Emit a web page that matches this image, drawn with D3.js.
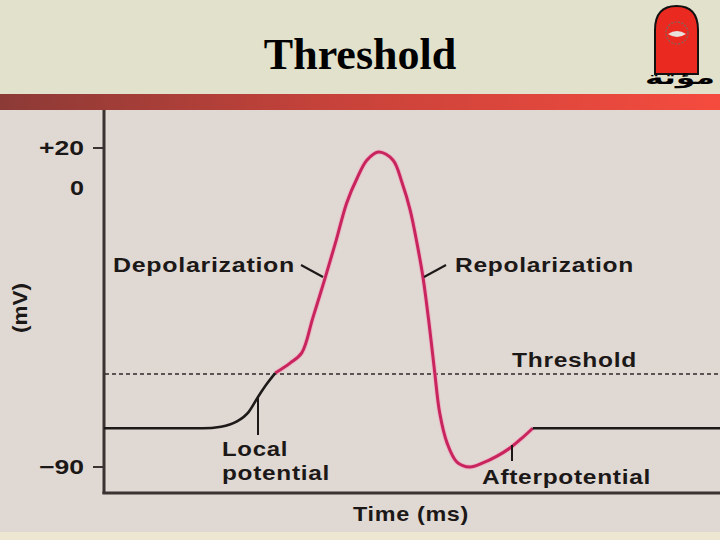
<!DOCTYPE html>
<html><head><meta charset="utf-8">
<script src="https://cdn.jsdelivr.net/npm/d3@7/dist/d3.min.js"></script>
<style>html,body{margin:0;padding:0;background:#e0d8d2;}svg{display:block;}</style>
</head><body><svg id="c" width="720" height="540"></svg>
<script>
// ---- data ----
const title = "Threshold";
const yTickValues = [20, 0, -90];
const yTickLabels = ["+20", "0", "\u221290"];
const yTickMarked = [true, false, true];
const thresholdValue = -60;
// resting / local potential (black)
const risingTime = [0, 16, 19, 21.5, 23.5, 25, 26.5, 27.8];
const risingMv   = [-77.5, -77.5, -77.0, -75.4, -72.2, -67.4, -63.0, -59.7];
// action potential (pink)
const spikeTime = [27.8, 30.2, 32.1, 33.9, 35.9, 37.7, 39.4, 41.1, 42.7, 44.6, 46.9, 48.4, 49.7, 50.8, 51.8, 52.8, 53.7, 54.5, 55.7, 57.3, 59.4, 61.5, 63.8, 65.9, 67.9, 69.6];
const spikeMv   = [-59.7, -56.5, -53.2, -41.9, -29.0, -16.8, -4.8, 5, 14, 18, 14, 2.5, -7.1, -17.7, -29.0, -44.2, -59.7, -72.6, -82.3, -88.4, -90, -88.7, -86.5, -83.9, -80.6, -77.5];
// return to rest (black)
const restTime = [69.6, 100];
const restMv   = [-77.5, -77.5];

const svg = d3.select("#c");
const W = 720, H = 540;

// backgrounds
svg.append("rect").attr("x",0).attr("y",0).attr("width",W).attr("height",H).attr("fill","#e0d8d2");
svg.append("rect").attr("x",0).attr("y",0).attr("width",W).attr("height",94).attr("fill","#e2e1cb");
svg.append("rect").attr("x",0).attr("y",532).attr("width",W).attr("height",8).attr("fill","#ede6d0");
const defs = svg.append("defs");
const g = defs.append("linearGradient").attr("id","band").attr("x1","0").attr("x2","1").attr("y1","0").attr("y2","0");
g.append("stop").attr("offset","0").attr("stop-color","#8c3a36");
g.append("stop").attr("offset","0.45").attr("stop-color","#c5423a");
g.append("stop").attr("offset","1").attr("stop-color","#f54b3e");
svg.append("rect").attr("x",0).attr("y",94).attr("width",W).attr("height",16).attr("fill","url(#band)");

// title
svg.append("text").attr("x",360).attr("y",69).attr("text-anchor","middle")
  .attr("font-family","'Liberation Serif','Times New Roman',serif").attr("font-weight","bold")
  .attr("font-size",44).attr("fill","#000").text(title);

// logo
const logo = svg.append("g");
logo.append("path").attr("d","M655,74 L655,30 Q655,6 676.5,6 Q698,6 698,30 L698,74 Z")
  .attr("fill","#ea2a20").attr("stroke","#111").attr("stroke-width",2);
logo.append("circle").attr("cx",677).attr("cy",33).attr("r",11).attr("fill","none").attr("stroke","#7a6a60").attr("stroke-width",1.2).attr("stroke-dasharray","2,1.5");
logo.append("path").attr("d","M668,34 Q677,28 686,34 Q677,40 668,34 Z").attr("fill","#e9e2dc");
logo.append("text").attr("x",680).attr("y",84).attr("text-anchor","middle").attr("textLength",70).attr("lengthAdjust","spacingAndGlyphs")
  .attr("font-family","'DejaVu Sans',sans-serif").attr("font-weight","bold").attr("font-size",18)
  .attr("fill","#000").attr("direction","rtl").text("مؤتة");

// scales (schematic piecewise voltage scale)
const x = d3.scaleLinear().domain([0,100]).range([104,720]);
const y = d3.scaleLinear().domain([-90,0,20]).range([467,188,148]);

const axisColor = "#3b3232";
const font = "'Liberation Sans',Arial,Helvetica,sans-serif";
const txtColor = "#1c1818";

// axes
svg.append("line").attr("x1",104).attr("x2",104).attr("y1",110).attr("y2",494).attr("stroke",axisColor).attr("stroke-width",3);
svg.append("line").attr("x1",102.5).attr("x2",720).attr("y1",493).attr("y2",493).attr("stroke",axisColor).attr("stroke-width",3);
const tickW = [45, 14, 45];
yTickValues.forEach((v,i)=>{
  if (yTickMarked[i]) svg.append("line").attr("x1",93).attr("x2",104).attr("y1",y(v)).attr("y2",y(v)).attr("stroke",axisColor).attr("stroke-width",2);
  svg.append("text").attr("x",84 - tickW[i]).attr("y",y(v)).attr("dy","0.36em")
    .attr("textLength",tickW[i]).attr("lengthAdjust","spacingAndGlyphs")
    .attr("font-family",font).attr("font-weight","bold").attr("font-size",20).attr("fill",txtColor)
    .text(yTickLabels[i]);
});
svg.append("text").attr("transform","translate(27,333) rotate(-90)")
  .attr("textLength",50).attr("lengthAdjust","spacingAndGlyphs")
  .attr("font-family",font).attr("font-weight","bold").attr("font-size",20).attr("fill",txtColor).text("(mV)");

// threshold
svg.append("line").attr("x1",105).attr("x2",720).attr("y1",y(thresholdValue)).attr("y2",y(thresholdValue))
  .attr("stroke","#2e2828").attr("stroke-width",1.6).attr("stroke-dasharray","4,3");

const pts = (t,v)=>t.map((tt,i)=>[tt,v[i]]);
const spikeLine = d3.line().x(d=>x(d[0])).y(d=>y(d[1])).curve(d3.curveCatmullRom.alpha(0.5));
const restLine = d3.line().x(d=>x(d[0])).y(d=>y(d[1])).curve(d3.curveMonotoneX);

svg.append("path").attr("d",spikeLine(pts(spikeTime,spikeMv))).attr("fill","none")
  .attr("stroke","#f2a7c0").attr("stroke-width",5).attr("stroke-linejoin","round").attr("opacity",0.6);
svg.append("path").attr("d",spikeLine(pts(spikeTime,spikeMv))).attr("fill","none")
  .attr("stroke","#c8245e").attr("stroke-width",3).attr("stroke-linejoin","round");
svg.append("path").attr("d",restLine(pts(risingTime,risingMv))).attr("fill","none")
  .attr("stroke","#1e1a1a").attr("stroke-width",2.6);
svg.append("path").attr("d",restLine(pts(restTime,restMv))).attr("fill","none")
  .attr("stroke","#1e1a1a").attr("stroke-width",2.6);

// annotations
function label(txt, xx, yy, w){
  svg.append("text").attr("x",xx).attr("y",yy).attr("textLength",w).attr("lengthAdjust","spacingAndGlyphs")
    .attr("font-family",font).attr("font-weight","bold").attr("font-size",21).attr("letter-spacing",0.6)
    .attr("fill",txtColor).text(txt);
}
label("Depolarization",113,272,182);
label("Repolarization",455,272,179);
label("Threshold",512,367,125);
label("Local",222,456,66);
label("potential",222,480,108);
label("Afterpotential",482,484,169);
label("Time (ms)",353,521,116);
function lead(x1,y1,x2,y2){
  svg.append("line").attr("x1",x1).attr("y1",y1).attr("x2",x2).attr("y2",y2).attr("stroke",txtColor).attr("stroke-width",2);
}
lead(301,265,323,277);
lead(424,277,446,265);
lead(258,398,258,435);
lead(512,445,512,461);
</script></body></html>
